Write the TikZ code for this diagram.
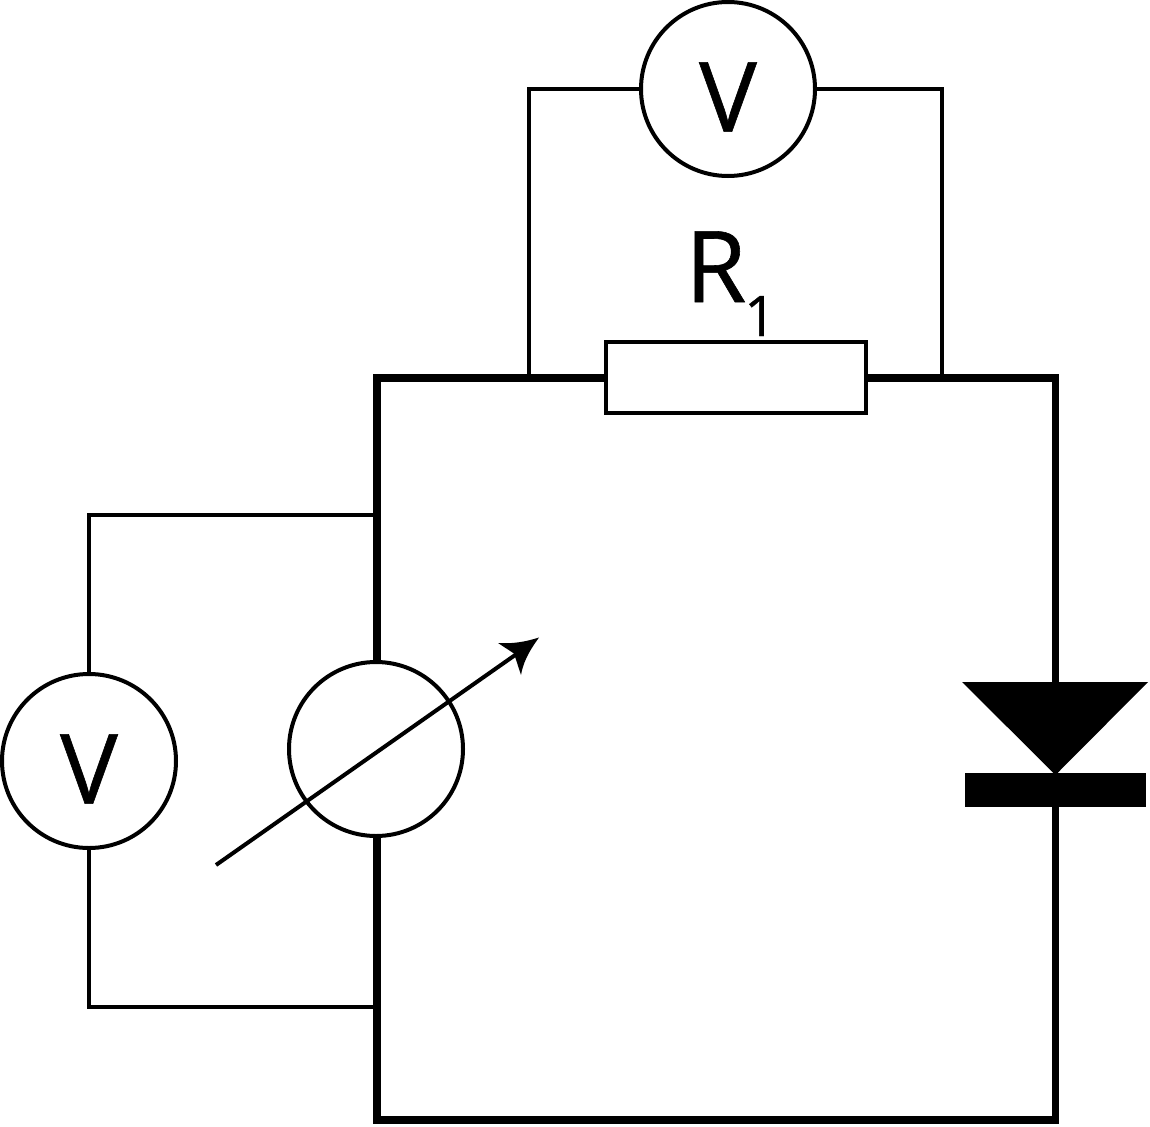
\documentclass[tikz,border=0pt]{standalone}
\usepackage{fontspec}
\setmainfont[FakeBold=0.6]{Open Sans}
\tikzset{
  thinwire/.style={line width=4pt,line join=miter},
  thickwire/.style={line width=7.5pt,line join=miter},
  meter/.style={circle,draw,line width=4pt,fill=white,inner sep=0pt,minimum size=174pt},
  vlabel/.style={font=\fontsize{97}{97}\selectfont},
  resistorbox/.style={rectangle,draw,line width=4pt,fill=white,inner sep=0pt,minimum width=260pt,minimum height=71.5pt},
  diodebar/.style={rectangle,fill=black,inner sep=0pt,minimum width=181pt,minimum height=34pt},
  diodehead/.style={fill=black},
  mainlabel/.style={font=\fontsize{99}{99}\selectfont,inner sep=0pt},
  sublabel/.style={font=\fontsize{56}{56}\selectfont,inner sep=0pt}
}
\begin{document}
\begin{tikzpicture}[x=1pt,y=-1pt]
\useasboundingbox (0,0) rectangle (1150,1126);
% named places
\coordinate (tl) at (377,378);
\coordinate (tr) at (1055.5,378);
\coordinate (bl) at (377,1120);
\coordinate (br) at (1055.5,1120);
\coordinate (dtop) at (1055.5,690);
\coordinate (ja) at (528.5,378);
\coordinate (jb) at (941.5,378);
\coordinate (ca) at (528.5,89);
\coordinate (cb) at (941.5,89);
\coordinate (jc) at (377,515);
\coordinate (jd) at (377,1007);
\coordinate (cc) at (89,515);
\coordinate (cd) at (89,1007);
\coordinate (arrowstart) at (216,865);
\coordinate (arrowend) at (518,653);
% thin wires
\draw[thinwire] (ja) -- (ca) -- (728,89);
\draw[thinwire] (jb) -- (cb) -- (728,89);
\draw[thinwire] (jc) -- (cc) -- (89,761);
\draw[thinwire] (jd) -- (cd) -- (89,761);
% thick wires
\draw[thickwire] (736,378) -- (tl) -- (377,749);
\draw[thickwire] (736,378) -- (tr) -- (dtop);
\draw[thickwire] (377,749) -- (bl) -- (br) -- (1055.5,789);
% components
\node[meter] (vtop) at (728,89) {};
\node[meter] (vleft) at (89,761) {};
\node[meter] (src) at (376,749) {};
\node[resistorbox] (res) at (736,377.7) {};
\node[vlabel] (vtoptxt) at (728,97) {V};
\node[vlabel] (vlefttxt) at (89,769) {V};
\node[mainlabel,anchor=base west] (rname) at (685,302) {R};
\node[sublabel,anchor=base west] (rsub) at (744,336) {1};
% diode
\fill[diodehead] (962,682) -- (1148,682) -- (1055.5,775) -- cycle;
\node[diodebar] (bar) at (1055.5,790) {};
% variable arrow
\draw[line width=4pt] (arrowstart) -- (arrowend);
\fill (539,637.5) .. controls (527,654) and (523,664) .. (521,675)
  -- (514,653.5) -- (498,643) .. controls (512,644) and (525,642) .. cycle;
\end{tikzpicture}
\end{document}
